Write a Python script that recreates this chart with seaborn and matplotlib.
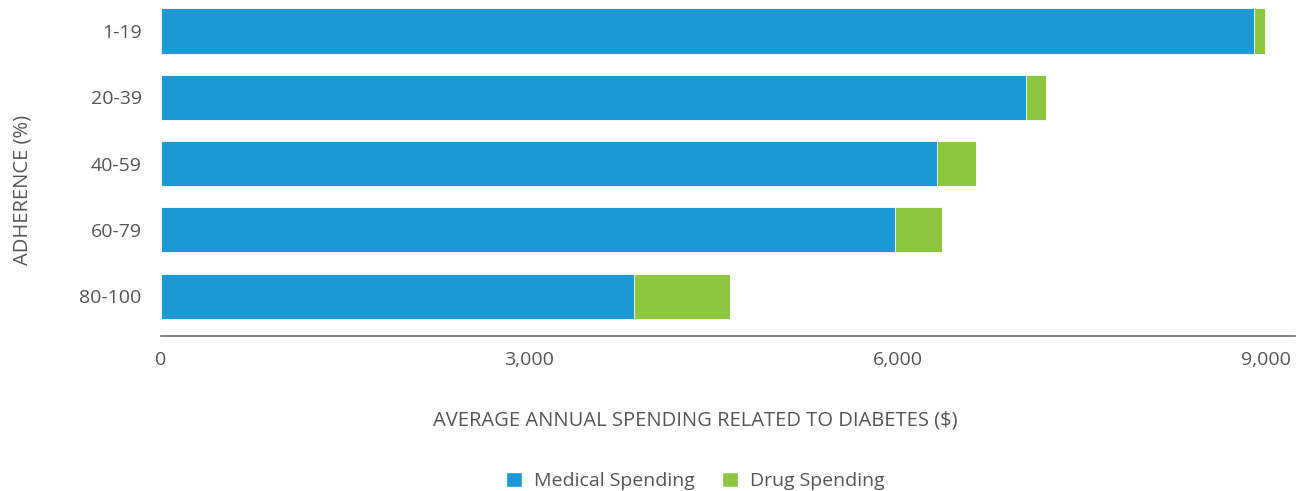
import matplotlib
matplotlib.use("Agg")
import matplotlib.pyplot as plt
from matplotlib.patches import Patch
import seaborn as sns
import pandas as pd

categories = ["1-19", "20-39", "40-59", "60-79", "80-100"]
medical = [8900, 7045, 6320, 5975, 3850]
drug = [90, 165, 320, 385, 785]
xticks = [0, 3000, 6000, 9000]

BLUE = "#1e98d4"
GREEN = "#8dc63f"
TEXT = "#555555"

sns.set_theme(style="white")
plt.rcParams["font.family"] = ["Open Sans", "DejaVu Sans"]

df = pd.DataFrame({"adherence": categories, "medical": medical, "drug": drug})
df["total"] = df["medical"] + df["drug"]

fig = plt.figure(figsize=(13, 4.91), dpi=100)
ax = fig.add_axes([161 / 1300, 1 - 336 / 491, (1295 - 161) / 1300, 336 / 491])

sns.barplot(data=df, y="adherence", x="total", color=GREEN, orient="h",
            width=0.68, ax=ax, saturation=1, edgecolor="white", linewidth=0.6)
sns.barplot(data=df, y="adherence", x="medical", color=BLUE, orient="h",
            width=0.68, ax=ax, saturation=1, edgecolor="white", linewidth=0.6)

ax.set_xlim(0, 9236)
ax.set_ylim(4.60, -0.468)
ax.set_xticks(xticks)
ax.set_xticklabels([f"{v:,}" for v in xticks])
ax.tick_params(axis="x", length=0, pad=11, labelsize=14, labelcolor=TEXT)
ax.tick_params(axis="y", length=0, pad=14, labelsize=14, labelcolor=TEXT)

for s in ["top", "right", "left"]:
    ax.spines[s].set_visible(False)
ax.spines["bottom"].set_color("#666666")
ax.spines["bottom"].set_linewidth(1.2)

ax.set_xlabel("AVERAGE ANNUAL SPENDING RELATED TO DIABETES ($)", fontsize=14.5,
              color=TEXT, labelpad=30)
ax.set_ylabel("ADHERENCE (%)", fontsize=14.5, color=TEXT, labelpad=34)
ax.xaxis.label.set_x((695 - 161) / (1295 - 161))
ax.yaxis.label.set_y((336 - 190) / 336)

handles = [Patch(facecolor=BLUE, label="Medical Spending"),
           Patch(facecolor=GREEN, label="Drug Spending")]
fig.legend(handles=handles, loc="center", bbox_to_anchor=(695 / 1300, 1 - 481 / 491),
           ncol=2, frameon=False, fontsize=14, handlelength=0.85, handleheight=0.85,
           handletextpad=0.6, columnspacing=1.4, labelcolor=TEXT)

fig.savefig("out.png", dpi=100)
